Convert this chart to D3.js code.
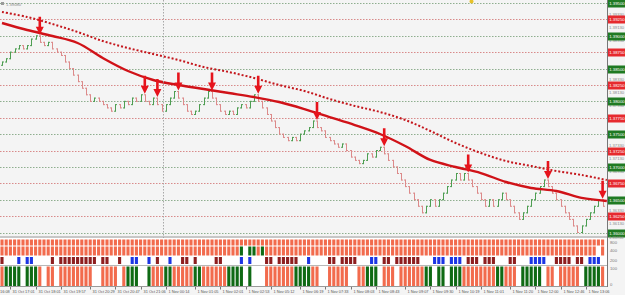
<!DOCTYPE html>
<html>
<head>
<meta charset="utf-8">
<script src="https://cdn.jsdelivr.net/npm/d3@7"></script>
<style>
  html, body { margin: 0; padding: 0; background: #f4f4f4; }
  svg { display: block; font-family: "Liberation Sans", Arial, sans-serif; }
</style>
</head>
<body>
<svg id="chart" width="625" height="295"></svg>
<script>
// Range bars: each close, open = previous close
const firstOpen = 1.3855
const closes = [
  1.3860, 1.3865, 1.3875, 1.3880, 1.3885, 1.3880, 1.3885, 1.3895, 1.3900, 1.3890,
  1.3885, 1.3890, 1.3880, 1.3875, 1.3870, 1.3860, 1.3850, 1.3840, 1.3830, 1.3820,
  1.3810, 1.3800, 1.3805, 1.3800, 1.3795, 1.3790, 1.3785, 1.3795, 1.3790, 1.3800,
  1.3795, 1.3805, 1.3800, 1.3810, 1.3800, 1.3795, 1.3805, 1.3795, 1.3785, 1.3795,
  1.3805, 1.3815, 1.3805, 1.3795, 1.3785, 1.3780, 1.3785, 1.3795, 1.3805, 1.3815,
  1.3805, 1.3795, 1.3785, 1.3780, 1.3785, 1.3780, 1.3790, 1.3795, 1.3790, 1.3800,
  1.3810, 1.3800, 1.3790, 1.3780, 1.3770, 1.3760, 1.3750, 1.3745, 1.3740, 1.3745,
  1.3740, 1.3750, 1.3755, 1.3760, 1.3770, 1.3760, 1.3755, 1.3745, 1.3740, 1.3735,
  1.3730, 1.3735, 1.3725, 1.3715, 1.3710, 1.3705, 1.3710, 1.3720, 1.3715, 1.3725,
  1.3730, 1.3720, 1.3710, 1.3700, 1.3690, 1.3680, 1.3670, 1.3660, 1.3650, 1.3640,
  1.3630, 1.3640, 1.3650, 1.3640, 1.3650, 1.3660, 1.3670, 1.3680, 1.3690, 1.3680,
  1.3690, 1.3680, 1.3670, 1.3660, 1.3650, 1.3640, 1.3650, 1.3640, 1.3650, 1.3660,
  1.3650, 1.3640, 1.3630, 1.3620, 1.3630, 1.3640, 1.3650, 1.3660, 1.3670, 1.3680,
  1.3670, 1.3660, 1.3650, 1.3640, 1.3630, 1.3620, 1.3610, 1.3600, 1.3610, 1.3620,
  1.3630, 1.3640, 1.3650, 1.3640
]

// moving averages sampled every maStep bars
const maStep = 6
const maFast = [
  1.39195, 1.39088, 1.38997, 1.38890, 1.38661, 1.38463, 1.38326, 1.38250, 1.38188,
  1.38127, 1.38066, 1.37990, 1.37883, 1.37761, 1.37639, 1.37502, 1.37319, 1.37106,
  1.36999, 1.36907, 1.36770, 1.36679, 1.36633, 1.36527, 1.36481
]
const maSlow = [
  1.39363, 1.39286, 1.39180, 1.39058, 1.38920, 1.38814, 1.38722, 1.38631, 1.38524,
  1.38448, 1.38356, 1.38249, 1.38158, 1.38036, 1.37930, 1.37838, 1.37716, 1.37548,
  1.37365, 1.37213, 1.37090, 1.37014, 1.36938, 1.36877, 1.36800
]

// sell signals (bar index)
const signalBars = [9, 34, 37, 42, 50, 61, 75, 91, 111, 130, 143]

const levels = [
  1.3950, 1.3925, 1.3900, 1.3875, 1.3850, 1.3825, 1.3800, 1.3775,
  1.3750, 1.3725, 1.3700, 1.3675, 1.3650, 1.3625, 1.3600
]
const priceTicks = [
  1.3933, 1.3913, 1.3893, 1.3873, 1.3853, 1.3833, 1.3813, 1.3793, 1.3773,
  1.3753, 1.3733, 1.3713, 1.3693, 1.3673, 1.3653, 1.3633, 1.3613
]

const timeLabels = [
  "31 Oct 16:08", "31 Oct 17:01", "31 Oct 18:01", "31 Oct 19:57", "31 Oct 20:29",
  "31 Oct 20:47", "31 Oct 21:06", "1 Nov 00:14", "1 Nov 01:05", "1 Nov 02:01",
  "1 Nov 02:53", "1 Nov 05:12", "1 Nov 06:19", "1 Nov 07:33", "1 Nov 08:03",
  "1 Nov 08:43", "1 Nov 09:07", "1 Nov 09:30", "1 Nov 10:19", "1 Nov 11:01",
  "1 Nov 11:20", "1 Nov 12:00", "1 Nov 12:46", "1 Nov 13:06"
]
const timeBars = [-4, 2, 8, 14, 21, 27, 33, 39, 46, 52, 58, 64, 71, 77, 83, 89, 96, 102, 108, 114, 121, 127, 133, 139]

// indicator panel rows, run-length: [state, bars]
const rowA = [["s", 144]]
const rowB = [["s", 57], ["g", 1], ["w", 1], ["g", 2], ["s", 1], ["g", 1], ["s", 79], ["w", 1], ["s", 1]]
const rowC = [
  ["r", 1], ["w", 3], ["b", 1], ["w", 1], ["b", 2], ["w", 4], ["r", 1], ["w", 1], ["r", 9], ["w", 1],
  ["r", 2], ["w", 2], ["r", 1], ["w", 2], ["b", 2], ["w", 2], ["b", 1], ["w", 1], ["r", 1], ["w", 2],
  ["b", 1], ["w", 2], ["r", 2], ["w", 1], ["r", 1], ["w", 4], ["r", 2], ["w", 4], ["b", 1], ["w", 1],
  ["b", 1], ["w", 3], ["r", 2], ["w", 1], ["r", 5], ["w", 2], ["b", 1], ["w", 4], ["r", 2], ["w", 1],
  ["r", 4], ["w", 3], ["b", 2], ["w", 1], ["r", 2], ["w", 1], ["r", 6], ["w", 3], ["b", 3], ["w", 1],
  ["b", 3], ["w", 1], ["r", 3], ["w", 1], ["r", 3], ["w", 3], ["r", 2], ["w", 3], ["b", 4], ["w", 2],
  ["r", 4], ["w", 1], ["r", 2], ["w", 1], ["b", 3], ["w", 1]
]
const rowD = [
  ["s", 1], ["g", 4], ["w", 1], ["g", 3], ["s", 1], ["w", 1], ["s", 2], ["w", 1], ["s", 8], ["w", 2],
  ["s", 4], ["w", 1], ["s", 1], ["g", 3], ["w", 2], ["g", 1], ["s", 3], ["g", 2], ["s", 5], ["g", 2],
  ["s", 6], ["g", 4], ["w", 1], ["g", 1], ["w", 3], ["s", 7], ["g", 4], ["s", 2], ["w", 2], ["s", 5],
  ["w", 2], ["s", 2], ["g", 3], ["w", 1], ["s", 3], ["w", 1], ["s", 6], ["g", 2], ["w", 1], ["g", 2],
  ["w", 1], ["g", 3], ["s", 8], ["g", 2], ["s", 3], ["w", 1], ["g", 5], ["w", 1], ["s", 2], ["w", 1],
  ["s", 5], ["w", 1], ["g", 4], ["s", 1]
]
const panelTickLabels = ["800", "400", "200", "100", "0"]

const W = 625, H = 295
const plotRight = 607, plotBottom = 236.5
const svg = d3.select("#chart")

const bars = closes.map((c, i) => {
  const o = i === 0 ? firstOpen : closes[i - 1]
  return { i, open: o, close: c, high: Math.max(o, c), low: Math.min(o, c) }
})

const x = d3.scaleLinear().domain([0, closes.length - 1]).range([2, 602.6])
const y = d3.scaleLinear().domain([1.3600, 1.3950]).range([232.5, 3])

svg.append("rect").attr("width", W).attr("height", H).attr("fill", "#f4f4f4")

svg.append("defs").append("clipPath").attr("id", "plot")
  .append("rect").attr("x", 0).attr("y", 0).attr("width", plotRight).attr("height", plotBottom)

const main = svg.append("g").attr("clip-path", "url(#plot)")

// level lines
const isRound = p => Math.round(p * 10000) % 50 === 0
main.selectAll(".level")
  .data(levels)
  .enter()
  .append("line")
  .attr("x1", 0).attr("x2", plotRight)
  .attr("y1", d => Math.round(y(d)) + 0.5).attr("y2", d => Math.round(y(d)) + 0.5)
  .style("stroke", d => isRound(d) ? "#8fae8f" : "#d88a8a")
  .style("stroke-width", 1)
  .style("stroke-dasharray", "1.5,1.5")

// session separator
svg.append("line")
  .attr("x1", 163.5).attr("x2", 163.5).attr("y1", 0).attr("y2", 287)
  .style("stroke", "#a8a8a8").style("stroke-dasharray", "1.5,1.5")

// slow MA (dotted)
const maLine = d3.line()
  .x((d, k) => x(k * maStep))
  .y(d => y(d))
  .curve(d3.curveCatmullRom)

main.append("path")
  .datum(maSlow)
  .attr("d", maLine)
  .style("fill", "none")
  .style("stroke", "#c4161c")
  .style("stroke-width", 2)
  .style("stroke-dasharray", "2,2")

// price bars
main.selectAll(".bar")
  .data(bars)
  .enter()
  .append("path")
  .attr("d", d => {
    const cx = Math.round(x(d.i)) + 0.5
    return `M${cx},${y(d.low) + 0.5}V${y(d.high) - 0.5}` +
      `M${cx - 1.5},${y(d.open)}H${cx}M${cx},${y(d.close)}H${cx + 1.5}`
  })
  .style("fill", "none")
  .style("stroke", d => d.close >= d.open ? "#4e9e52" : "#dc8a8a")
  .style("stroke-width", 1)

// fast MA (solid)
main.append("path")
  .datum(maFast)
  .attr("d", maLine)
  .style("fill", "none")
  .style("stroke", "#d01218")
  .style("stroke-width", 2.4)

// sell arrows
signalBars.forEach(i => {
  const cx = x(i)
  const tip = y(bars[i].high) - 1
  main.append("path")
    .attr("d", `M${cx - 1.3},${tip - 18}H${cx + 1.3}V${tip - 8}H${cx + 4}L${cx},${tip}L${cx - 4},${tip - 8}H${cx - 1.3}Z`)
    .style("fill", "#e6141c")
})

// yellow marker on top
svg.append("circle").attr("cx", 471.5).attr("cy", 1.5).attr("r", 2).style("fill", "#e8c22a")

// top-left info
svg.append("rect").attr("x", 1).attr("y", 2).attr("width", 3).attr("height", 3).style("fill", "#9a9a9a")
svg.append("text").attr("x", 6).attr("y", 5.5).text("1.39080")
  .style("font-size", "4.2px").style("fill", "#8a8a8a")

// right axis
svg.append("line").attr("x1", plotRight + 0.5).attr("x2", plotRight + 0.5).attr("y1", 0).attr("y2", 287)
  .style("stroke", "#777")

// grey price ticks, hidden where a level label sits
const levelYs = levels.map(y)
svg.selectAll(".ptick")
  .data(priceTicks.filter(p => d3.min(levelYs, ly => Math.abs(ly - y(p))) > 4.5))
  .enter()
  .append("text")
  .attr("x", 609).attr("y", d => y(d)).attr("dy", "0.35em")
  .text(d => d.toFixed(5))
  .style("font-size", "4.2px").style("fill", "#8a8a8a")

const lvl = svg.selectAll(".lvl")
  .data(levels)
  .enter()
  .append("g")
  .attr("transform", d => `translate(${plotRight + 1},${Math.round(y(d)) + 0.5})`)

lvl.append("rect")
  .attr("x", 0).attr("y", -4).attr("width", 17.5).attr("height", 8)
  .style("fill", d => isRound(d) ? "#1f7a22" : "#e62a2e")

lvl.append("text")
  .attr("x", 1.2).attr("y", 0).attr("dy", "0.36em")
  .text(d => d.toFixed(5))
  .style("font-size", "4.3px").style("fill", "#ffffff")

// main chart bottom border
svg.append("line").attr("x1", 0).attr("x2", plotRight).attr("y1", plotBottom + 0.5).attr("y2", plotBottom + 0.5)
  .style("stroke", "#9a9a9a")

// indicator panel
svg.append("rect").attr("x", 0).attr("y", 238).attr("width", plotRight).attr("height", 48.5).style("fill", "#ffffff")

const stateColors = { s: "#f26b4d", g: "#0f6a14", b: "#1c35e4", r: "#8e1e1f" }
const expand = runs => {
  const out = []
  runs.forEach(([c, n]) => { for (let k = 0; k < n; k++) out.push(c) })
  return out
}

const rowLayout = [
  { runs: rowA, y0: 239.5, h: 6 },
  { runs: rowB, y0: 246.5, h: 9 },
  { runs: rowC, y0: 257, h: 7 },
  { runs: rowD, y0: 266.5, h: 19.5 }
]
const bw = 3.1

rowLayout.forEach(row => {
  svg.append("g")
    .selectAll("rect")
    .data(expand(row.runs).map((c, i) => ({ c, i })).filter(d => d.c !== "w"))
    .enter()
    .append("rect")
    .attr("x", d => x(d.i) - bw / 2)
    .attr("y", row.y0)
    .attr("width", bw)
    .attr("height", row.h)
    .style("fill", d => stateColors[d.c])
})

svg.append("line").attr("x1", 0).attr("x2", plotRight).attr("y1", 265.5).attr("y2", 265.5)
  .style("stroke", "#b8b8b8")
svg.append("line").attr("x1", 0).attr("x2", plotRight).attr("y1", 286.5).attr("y2", 286.5)
  .style("stroke", "#9a9a9a")

const panelTickY = [243, 251, 260.5, 268.5, 284.5]
svg.selectAll(".ptl")
  .data(panelTickLabels)
  .enter()
  .append("text")
  .attr("x", 610).attr("y", (d, k) => panelTickY[k]).attr("dy", "0.35em")
  .text(d => d)
  .style("font-size", "4.2px").style("fill", "#777")

svg.append("text").attr("x", 609).attr("y", 237.5).attr("dy", "0.35em")
  .text("1.35950").style("font-size", "4px").style("fill", "#8a8a8a")

// time axis
const tl = svg.selectAll(".tl")
  .data(timeLabels)
  .enter()
  .append("g")
  .attr("transform", (d, k) => `translate(${Math.round(x(timeBars[k])) + 0.5},287)`)

tl.append("line").attr("y1", 0).attr("y2", 2.5).style("stroke", "#777")
tl.append("text")
  .attr("x", 2).attr("y", 6)
  .text(d => d)
  .style("font-size", "3.9px").style("fill", "#555")
</script>
</body>
</html>
